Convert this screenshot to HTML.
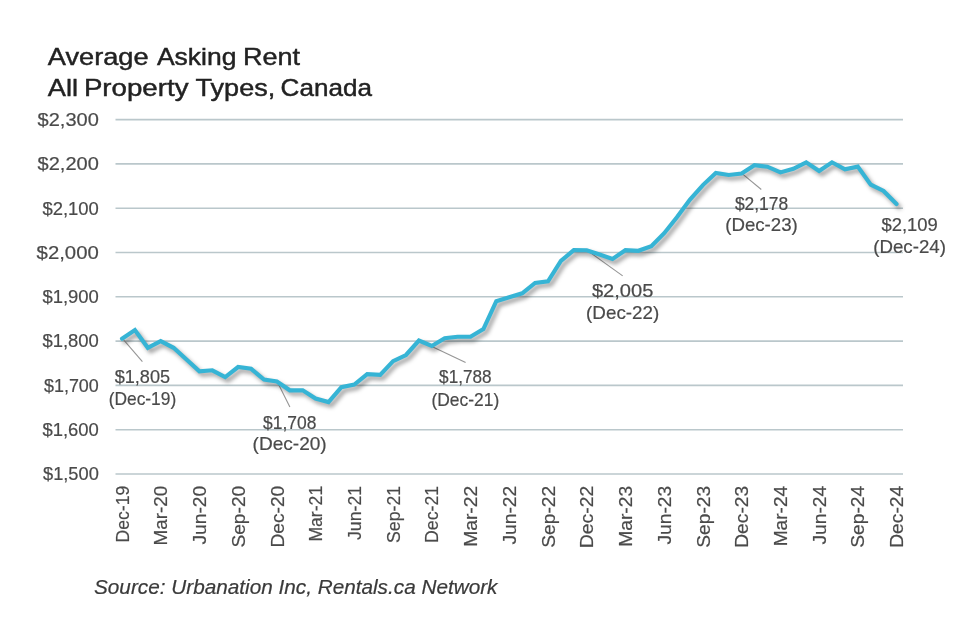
<!DOCTYPE html>
<html lang="en">
<head>
<meta charset="utf-8">
<title>Average Asking Rent - All Property Types, Canada</title>
<style>
html,body{margin:0;padding:0;background:#fff;}
body{width:980px;height:626px;overflow:hidden;font-family:"Liberation Sans",sans-serif;}
svg{display:block;}
text{font-family:"Liberation Sans",sans-serif;}
.t{font-size:24.5px;fill:#222;stroke:#222;stroke-width:0.45px;}
.a{font-size:19px;fill:#4a4a4a;stroke:#4a4a4a;stroke-width:0.2px;}
.s{font-size:19.7px;font-style:italic;fill:#3a3a3a;stroke:#3a3a3a;stroke-width:0.2px;}
</style>
</head>
<body>
<svg width="980" height="626" viewBox="0 0 980 626">
<defs>
<filter id="sh" x="-5%" y="-20%" width="110%" height="140%"><feGaussianBlur stdDeviation="2.0"/></filter>
</defs>
<rect width="980" height="626" fill="#fff"/>
<text class="t" x="47.8" y="64.9" textLength="100.8" lengthAdjust="spacingAndGlyphs">Average</text>
<text class="t" x="156.9" y="64.9" textLength="79.5" lengthAdjust="spacingAndGlyphs">Asking</text>
<text class="t" x="242.9" y="64.9" textLength="57.1" lengthAdjust="spacingAndGlyphs">Rent</text>
<text class="t" x="47.8" y="95.5" textLength="30.2" lengthAdjust="spacingAndGlyphs">All</text>
<text class="t" x="83.9" y="95.5" textLength="104.6" lengthAdjust="spacingAndGlyphs">Property</text>
<text class="t" x="195.6" y="95.5" textLength="79.6" lengthAdjust="spacingAndGlyphs">Types,</text>
<text class="t" x="280.6" y="95.5" textLength="91.3" lengthAdjust="spacingAndGlyphs">Canada</text>
<g stroke="#bac7cb" stroke-width="1.6">
<line x1="115.5" y1="119.6" x2="903.0" y2="119.6"/>
<line x1="115.5" y1="163.9" x2="903.0" y2="163.9"/>
<line x1="115.5" y1="208.2" x2="903.0" y2="208.2"/>
<line x1="115.5" y1="252.5" x2="903.0" y2="252.5"/>
<line x1="115.5" y1="296.8" x2="903.0" y2="296.8"/>
<line x1="115.5" y1="341.1" x2="903.0" y2="341.1"/>
<line x1="115.5" y1="385.4" x2="903.0" y2="385.4"/>
<line x1="115.5" y1="429.7" x2="903.0" y2="429.7"/>
<line x1="115.5" y1="474.0" x2="903.0" y2="474.0"/>
</g>
<text class="a" x="37.6" y="125.9" textLength="61.2" lengthAdjust="spacingAndGlyphs">$2,300</text>
<text class="a" x="37.6" y="170.2" textLength="61.2" lengthAdjust="spacingAndGlyphs">$2,200</text>
<text class="a" x="42.4" y="214.5" textLength="56.4" lengthAdjust="spacingAndGlyphs">$2,100</text>
<text class="a" x="36.6" y="258.8" textLength="62.2" lengthAdjust="spacingAndGlyphs">$2,000</text>
<text class="a" x="42.4" y="303.1" textLength="56.4" lengthAdjust="spacingAndGlyphs">$1,900</text>
<text class="a" x="42.4" y="347.4" textLength="56.4" lengthAdjust="spacingAndGlyphs">$1,800</text>
<text class="a" x="44.0" y="391.7" textLength="54.8" lengthAdjust="spacingAndGlyphs">$1,700</text>
<text class="a" x="42.4" y="436.0" textLength="56.4" lengthAdjust="spacingAndGlyphs">$1,600</text>
<text class="a" x="43.0" y="480.3" textLength="55.8" lengthAdjust="spacingAndGlyphs">$1,500</text>
<text class="a" transform="translate(128.6,485.8) rotate(-90)" text-anchor="end" textLength="56.7" lengthAdjust="spacingAndGlyphs">Dec-19</text>
<text class="a" transform="translate(167.3,485.8) rotate(-90)" text-anchor="end" textLength="59.8" lengthAdjust="spacingAndGlyphs">Mar-20</text>
<text class="a" transform="translate(206.0,485.8) rotate(-90)" text-anchor="end" textLength="58.8" lengthAdjust="spacingAndGlyphs">Jun-20</text>
<text class="a" transform="translate(244.7,485.8) rotate(-90)" text-anchor="end" textLength="61.8" lengthAdjust="spacingAndGlyphs">Sep-20</text>
<text class="a" transform="translate(283.5,485.8) rotate(-90)" text-anchor="end" textLength="61.8" lengthAdjust="spacingAndGlyphs">Dec-20</text>
<text class="a" transform="translate(322.2,485.8) rotate(-90)" text-anchor="end" textLength="55.8" lengthAdjust="spacingAndGlyphs">Mar-21</text>
<text class="a" transform="translate(360.9,485.8) rotate(-90)" text-anchor="end" textLength="54.2" lengthAdjust="spacingAndGlyphs">Jun-21</text>
<text class="a" transform="translate(399.7,485.8) rotate(-90)" text-anchor="end" textLength="57.2" lengthAdjust="spacingAndGlyphs">Sep-21</text>
<text class="a" transform="translate(438.4,485.8) rotate(-90)" text-anchor="end" textLength="57.2" lengthAdjust="spacingAndGlyphs">Dec-21</text>
<text class="a" transform="translate(477.1,485.8) rotate(-90)" text-anchor="end" textLength="61.0" lengthAdjust="spacingAndGlyphs">Mar-22</text>
<text class="a" transform="translate(515.9,485.8) rotate(-90)" text-anchor="end" textLength="58.8" lengthAdjust="spacingAndGlyphs">Jun-22</text>
<text class="a" transform="translate(554.6,485.8) rotate(-90)" text-anchor="end" textLength="61.9" lengthAdjust="spacingAndGlyphs">Sep-22</text>
<text class="a" transform="translate(593.3,485.8) rotate(-90)" text-anchor="end" textLength="62.5" lengthAdjust="spacingAndGlyphs">Dec-22</text>
<text class="a" transform="translate(632.0,485.8) rotate(-90)" text-anchor="end" textLength="61.0" lengthAdjust="spacingAndGlyphs">Mar-23</text>
<text class="a" transform="translate(670.8,485.8) rotate(-90)" text-anchor="end" textLength="58.8" lengthAdjust="spacingAndGlyphs">Jun-23</text>
<text class="a" transform="translate(709.5,485.8) rotate(-90)" text-anchor="end" textLength="62.0" lengthAdjust="spacingAndGlyphs">Sep-23</text>
<text class="a" transform="translate(748.2,485.8) rotate(-90)" text-anchor="end" textLength="62.0" lengthAdjust="spacingAndGlyphs">Dec-23</text>
<text class="a" transform="translate(787.0,485.8) rotate(-90)" text-anchor="end" textLength="60.5" lengthAdjust="spacingAndGlyphs">Mar-24</text>
<text class="a" transform="translate(825.7,485.8) rotate(-90)" text-anchor="end" textLength="58.8" lengthAdjust="spacingAndGlyphs">Jun-24</text>
<text class="a" transform="translate(864.4,485.8) rotate(-90)" text-anchor="end" textLength="62.0" lengthAdjust="spacingAndGlyphs">Sep-24</text>
<text class="a" transform="translate(903.1,485.8) rotate(-90)" text-anchor="end" textLength="62.0" lengthAdjust="spacingAndGlyphs">Dec-24</text>
<g stroke="#969696" stroke-width="1.1">
<line x1="123.0" y1="339.2" x2="142.4" y2="361.6"/>
<line x1="277.6" y1="382.6" x2="289.9" y2="407.1"/>
<line x1="432.4" y1="346.8" x2="465.6" y2="362.6"/>
<line x1="587.2" y1="250.4" x2="622.7" y2="275.9"/>
<line x1="742.1" y1="173.6" x2="761.3" y2="189.5"/>
</g>
<polyline points="122.0,338.7 134.9,330.1 147.8,347.8 160.7,341.2 173.6,347.8 186.5,359.5 199.4,371.3 212.3,370.3 225.2,377.1 238.1,367.0 251.1,368.8 264.0,379.5 276.9,381.5 289.8,390.3 302.7,390.3 315.6,398.6 328.5,402.1 341.4,387.1 354.3,384.6 367.2,374.2 380.2,374.9 393.1,361.2 406.0,355.0 418.9,340.6 431.8,346.0 444.7,338.2 457.6,336.7 470.5,336.7 483.4,329.1 496.3,301.2 509.2,297.2 522.2,293.3 535.1,282.9 548.0,281.3 560.9,260.9 573.8,250.2 586.7,250.3 599.6,254.5 612.5,259.0 625.4,250.2 638.3,250.8 651.3,246.2 664.2,233.2 677.1,217.1 690.0,199.5 702.9,185.1 715.8,172.9 728.7,175.0 741.6,173.6 754.5,165.2 767.4,166.7 780.4,172.4 793.3,168.8 806.2,162.3 819.1,171.0 832.0,162.3 844.9,169.3 857.8,166.6 870.7,184.7 883.6,191.0 896.5,204.0" fill="none" stroke="#000" stroke-opacity="0.40" stroke-width="4" stroke-linejoin="round" stroke-linecap="round" transform="translate(2.8,3.3)" filter="url(#sh)"/>
<polyline points="122.0,338.7 134.9,330.1 147.8,347.8 160.7,341.2 173.6,347.8 186.5,359.5 199.4,371.3 212.3,370.3 225.2,377.1 238.1,367.0 251.1,368.8 264.0,379.5 276.9,381.5 289.8,390.3 302.7,390.3 315.6,398.6 328.5,402.1 341.4,387.1 354.3,384.6 367.2,374.2 380.2,374.9 393.1,361.2 406.0,355.0 418.9,340.6 431.8,346.0 444.7,338.2 457.6,336.7 470.5,336.7 483.4,329.1 496.3,301.2 509.2,297.2 522.2,293.3 535.1,282.9 548.0,281.3 560.9,260.9 573.8,250.2 586.7,250.3 599.6,254.5 612.5,259.0 625.4,250.2 638.3,250.8 651.3,246.2 664.2,233.2 677.1,217.1 690.0,199.5 702.9,185.1 715.8,172.9 728.7,175.0 741.6,173.6 754.5,165.2 767.4,166.7 780.4,172.4 793.3,168.8 806.2,162.3 819.1,171.0 832.0,162.3 844.9,169.3 857.8,166.6 870.7,184.7 883.6,191.0 896.5,204.0" fill="none" stroke="#36b4d5" stroke-width="4.15" stroke-linejoin="miter" stroke-linecap="round"/>
<text class="a" x="114.7" y="382.9" textLength="55.4" lengthAdjust="spacingAndGlyphs">$1,805</text>
<text class="a" x="108.7" y="405.4" textLength="67.5" lengthAdjust="spacingAndGlyphs">(Dec-19)</text>
<text class="a" x="263.1" y="428.6" textLength="53.3" lengthAdjust="spacingAndGlyphs">$1,708</text>
<text class="a" x="252.6" y="450.0" textLength="74.1" lengthAdjust="spacingAndGlyphs">(Dec-20)</text>
<text class="a" x="439.1" y="383.4" textLength="52.5" lengthAdjust="spacingAndGlyphs">$1,788</text>
<text class="a" x="431.4" y="405.7" textLength="67.8" lengthAdjust="spacingAndGlyphs">(Dec-21)</text>
<text class="a" x="591.9" y="297.0" textLength="61.5" lengthAdjust="spacingAndGlyphs">$2,005</text>
<text class="a" x="586.1" y="318.7" textLength="73.1" lengthAdjust="spacingAndGlyphs">(Dec-22)</text>
<text class="a" x="734.9" y="209.9" textLength="53.3" lengthAdjust="spacingAndGlyphs">$2,178</text>
<text class="a" x="725.2" y="231.1" textLength="72.6" lengthAdjust="spacingAndGlyphs">(Dec-23)</text>
<text class="a" x="881.5" y="230.7" textLength="56.3" lengthAdjust="spacingAndGlyphs">$2,109</text>
<text class="a" x="873.3" y="252.5" textLength="72.6" lengthAdjust="spacingAndGlyphs">(Dec-24)</text>
<text class="s" x="94" y="594.3" textLength="403.5" lengthAdjust="spacingAndGlyphs">Source: Urbanation Inc, Rentals.ca Network</text>
</svg>
</body>
</html>
